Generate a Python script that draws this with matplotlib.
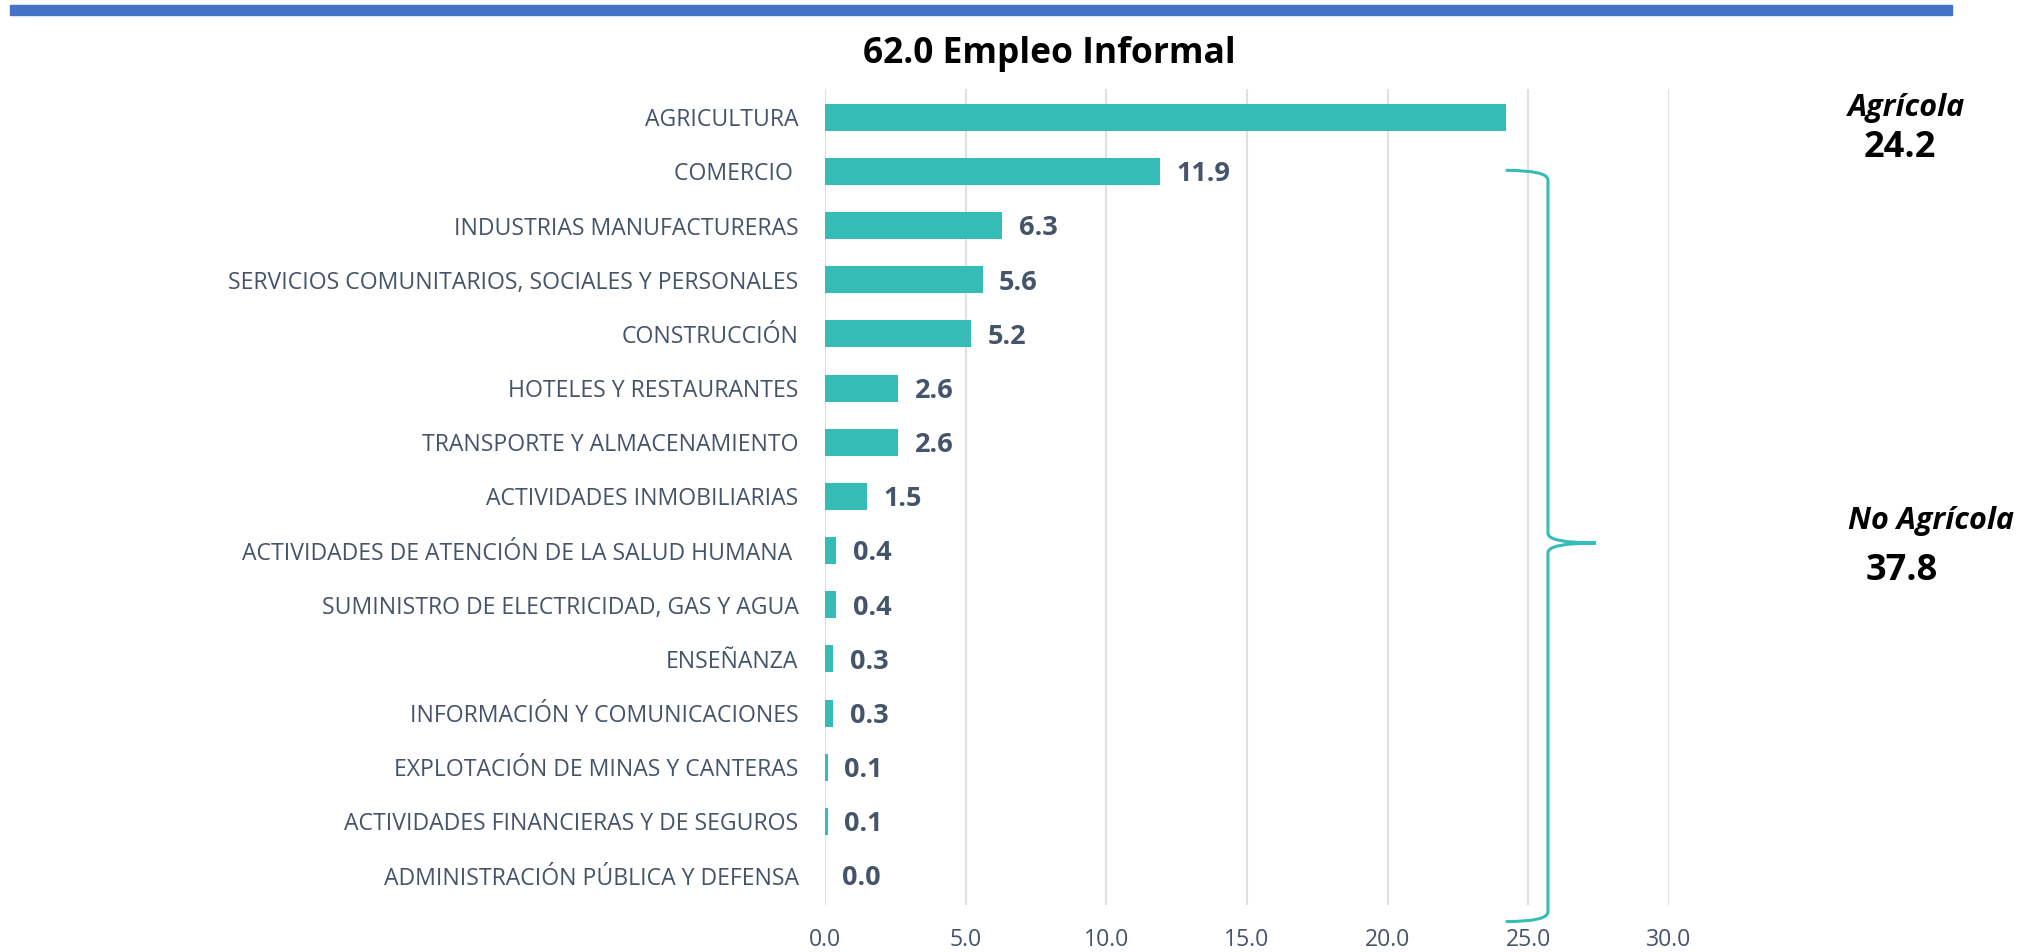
import matplotlib
matplotlib.use("Agg")
import matplotlib.pyplot as plt
from matplotlib.path import Path
from matplotlib.patches import PathPatch, Rectangle
import numpy as np

# Data
sectores = [
    "AGRICULTURA",
    "COMERCIO ",
    "INDUSTRIAS MANUFACTURERAS",
    "SERVICIOS COMUNITARIOS, SOCIALES Y PERSONALES",
    "CONSTRUCCIÓN",
    "HOTELES Y RESTAURANTES",
    "TRANSPORTE Y ALMACENAMIENTO",
    "ACTIVIDADES INMOBILIARIAS",
    "ACTIVIDADES DE ATENCIÓN DE LA SALUD HUMANA ",
    "SUMINISTRO DE ELECTRICIDAD, GAS Y AGUA",
    "ENSEÑANZA",
    "INFORMACIÓN Y COMUNICACIONES",
    "EXPLOTACIÓN DE MINAS Y CANTERAS",
    "ACTIVIDADES FINANCIERAS Y DE SEGUROS",
    "ADMINISTRACIÓN PÚBLICA Y DEFENSA",
]
valores = [24.2, 11.9, 6.3, 5.6, 5.2, 2.6, 2.6, 1.5, 0.4, 0.4, 0.3, 0.3, 0.1, 0.1, 0.0]
xticks = [0, 5, 10, 15, 20, 25, 30]
titulo = "62.0 Empleo Informal"
total_agricola = 24.2
total_no_agricola = 37.8

TEAL = "#36BCB6"
SLATE = "#44546A"
GRID = "#DDE1E6"
FONT = "Open Sans"

plt.rcParams["font.family"] = [FONT, "DejaVu Sans"]

fig = plt.figure(figsize=(20.4, 9.52), dpi=100)
ax = fig.add_axes([0.4044, 0.049, 0.4137, 0.858])

y = np.arange(len(sectores))
ax.barh(y, valores, height=0.5, color=TEAL, zorder=3)

ax.set_xlim(0, 30)
ax.set_ylim(len(sectores) - 0.45, -0.53)
ax.set_xticks(xticks)
ax.set_xticklabels([f"{t:.1f}" for t in xticks])
ax.set_yticks(y)
ax.set_yticklabels(sectores)
ax.tick_params(axis="both", length=0, colors=SLATE, labelsize=16.6)
ax.tick_params(axis="y", pad=19)
ax.tick_params(axis="x", pad=16)
ax.grid(axis="x", color=GRID, linewidth=1.5, zorder=0)
for s in ax.spines.values():
    s.set_visible(False)

# value labels (agriculture shown at the right instead)
for i, v in enumerate(valores):
    if i == 0:
        continue
    ax.annotate(f"{v:.1f}", xy=(v, i), xytext=(12, -2), textcoords="offset points",
                ha="left", va="center", fontsize=19.5, fontweight="bold", color=SLATE)

# brace for non-agricultural sectors
x0, x1, xt = total_agricola, 25.7, 27.4
yt, yb = 0.98, len(sectores) - 0.15
ym = 7.86
c = 0.18
verts = [
    (x0, yt), (x1, yt), (x1, yt + c),
    (x1, ym - c),
    (x1, ym), (xt, ym),
    (x1, ym), (x1, ym + c),
    (x1, yb - c),
    (x1, yb), (x0, yb),
]
codes = [Path.MOVETO, Path.CURVE3, Path.CURVE3,
         Path.LINETO,
         Path.CURVE3, Path.CURVE3,
         Path.CURVE3, Path.CURVE3,
         Path.LINETO,
         Path.CURVE3, Path.CURVE3]
ax.add_patch(PathPatch(Path(verts, codes), fill=False, edgecolor=TEAL,
                       linewidth=2.2, clip_on=False, zorder=4))

# header bar and title
fig.patches.append(Rectangle((10 / 2040, 1 - 15 / 952), 1942 / 2040, 10 / 952,
                             transform=fig.transFigure, color="#4472C4"))
fig.text(1049 / 2040, 1 - 54 / 952, titulo, ha="center", va="center",
         fontsize=25.5, fontweight="bold", color="black")

# right annotations
fig.text(1906 / 2040, 1 - 108 / 952, "Agrícola", ha="center", va="center",
         fontsize=22, fontweight="bold", style="italic")
fig.text(1900 / 2040, 1 - 148 / 952, f"{total_agricola:.1f}", ha="center", va="center",
         fontsize=26, fontweight="bold")
fig.text(1931 / 2040, 1 - 521 / 952, "No Agrícola", ha="center", va="center",
         fontsize=22, fontweight="bold", style="italic")
fig.text(1902 / 2040, 1 - 571 / 952, f"{total_no_agricola:.1f}", ha="center", va="center",
         fontsize=26, fontweight="bold")

fig.savefig("out.png", dpi=100)
